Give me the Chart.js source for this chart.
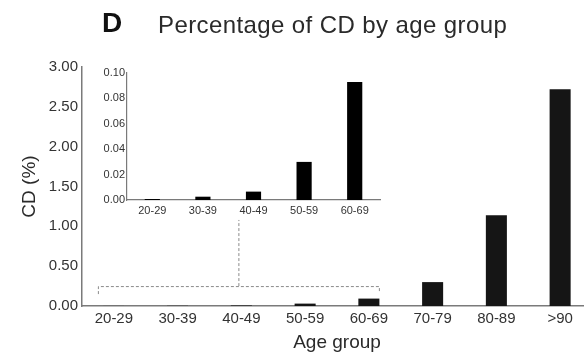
<!DOCTYPE html>
<html>
<head>
<meta charset="utf-8">
<script src="https://cdn.jsdelivr.net/npm/chart.js@4"></script>
<style>
  html, body { margin: 0; padding: 0; background: #fff; overflow: hidden; }
  #wrap { position: relative; width: 584px; height: 354px; overflow: hidden; font-family: "Liberation Sans", Arial, sans-serif; }
  #main { position: absolute; left: 0; top: 0; }
  #inset { position: absolute; left: 88px; top: 63px; }
  .panel { position: absolute; left: 102px; top: 9px; font-size: 28px; line-height: 28px; font-weight: bold; color: #111; }
  .title { position: absolute; left: 158px; top: 13px; font-size: 24px; line-height: 24px; color: #2a2a2a; letter-spacing: 0.4px; }
</style>
</head>
<body>
<div id="wrap">
  <canvas id="main" width="594" height="354"></canvas>
  <canvas id="inset" width="294" height="157"></canvas>
  <div class="panel">D</div>
  <div class="title">Percentage of CD by age group</div>
</div>
<script>
// age groups and CD percentage
const ageGroups = ['20-29', '30-39', '40-49', '50-59', '60-69', '70-79', '80-89', '>90'];
const cdPercent = [0.0008, 0.0026, 0.0066, 0.030, 0.093, 0.30, 1.14, 2.72];
// inset zooms into the first five groups
const insetGroups = ageGroups.slice(0, 5);
const insetPercent = cdPercent.slice(0, 5);

const axisGrey = '#7a7a7a';
const textGrey = '#333';
const barBlack = '#151515';
const fontFam = '"Liberation Sans", Arial, sans-serif';

// dashed bracket over 20-69 with a stem going up to the inset
const bracketPlugin = {
  id: 'bracket',
  afterDatasetsDraw(chart) {
    const x = chart.scales.x, y = chart.scales.y;
    const ctx = chart.ctx;
    const left = x.getPixelForValue(0) - 16;
    const right = x.getPixelForValue(4) + 10;
    const yb = y.getPixelForValue(0.25);
    const mid = (left + right) / 2;
    ctx.save();
    ctx.strokeStyle = '#8a8a8a';
    ctx.lineWidth = 1;
    ctx.setLineDash([3, 2]);
    ctx.beginPath();
    ctx.moveTo(left + 0.5, yb + 8);
    ctx.lineTo(left + 0.5, yb + 0.5);
    ctx.lineTo(right + 0.5, yb + 0.5);
    ctx.lineTo(right + 0.5, yb + 5);
    ctx.moveTo(mid + 0.5, yb);
    ctx.lineTo(mid + 0.5, y.getPixelForValue(1.08));
    ctx.stroke();
    ctx.restore();
  }
};

new Chart(document.getElementById('main'), {
  type: 'bar',
  data: {
    labels: ageGroups,
    datasets: [{
      data: cdPercent,
      backgroundColor: barBlack,
      categoryPercentage: 1,
      barPercentage: 0.33
    }]
  },
  options: {
    responsive: false,
    animation: false,
    layout: { padding: { top: 67, right: 2, left: 0, bottom: 0 } },
    plugins: { legend: { display: false }, tooltip: { enabled: false } },
    scales: {
      x: {
        grid: { display: false, drawTicks: false },
        border: { color: axisGrey, width: 1.5 },
        ticks: { color: textGrey, font: { family: fontFam, size: 15 }, padding: 4, maxRotation: 0 },
        title: { display: true, text: 'Age group', color: '#2a2a2a', font: { family: fontFam, size: 19 }, padding: { top: 2, bottom: 0 } },
        afterFit(s) { s.height = 48; }
      },
      y: {
        min: 0, max: 3,
        grid: { display: false, drawTicks: false },
        border: { color: axisGrey, width: 1.5 },
        ticks: { stepSize: 0.5, color: textGrey, font: { family: fontFam, size: 15 }, padding: 4, callback: v => v.toFixed(2) },
        title: { display: true, text: 'CD (%)', color: '#2a2a2a', font: { family: fontFam, size: 19 }, padding: { top: 18, bottom: 0 } },
        afterFit(s) { s.width = 82; }
      }
    }
  },
  plugins: [bracketPlugin]
});

new Chart(document.getElementById('inset'), {
  type: 'bar',
  data: {
    labels: insetGroups,
    datasets: [{
      data: insetPercent,
      backgroundColor: '#000',
      categoryPercentage: 1,
      barPercentage: 0.3
    }]
  },
  options: {
    responsive: false,
    animation: false,
    layout: { padding: { top: 10, right: 2, left: 0, bottom: 0 } },
    plugins: { legend: { display: false }, tooltip: { enabled: false } },
    scales: {
      x: {
        grid: { display: false, drawTicks: false },
        border: { color: axisGrey, width: 1.2 },
        ticks: { color: textGrey, font: { family: fontFam, size: 11 }, padding: 4, maxRotation: 0 },
        afterFit(s) { s.height = 20; }
      },
      y: {
        min: 0, max: 0.1,
        grid: { display: false, drawTicks: false },
        border: { color: axisGrey, width: 1.2 },
        ticks: { stepSize: 0.02, color: textGrey, font: { family: fontFam, size: 11 }, padding: 2, callback: v => v.toFixed(2) },
        afterFit(s) { s.width = 39; }
      }
    }
  }
});
</script>
</body>
</html>
